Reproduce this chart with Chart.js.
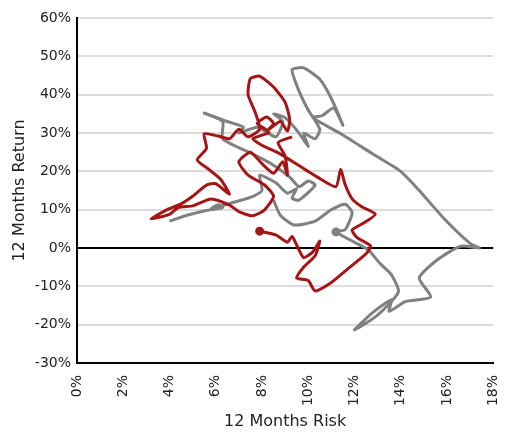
<!DOCTYPE html>
<html>
<head>
<meta charset="utf-8">
<script src="https://cdn.jsdelivr.net/npm/chart.js@4/dist/chart.umd.min.js"></script>
<style>
  html, body { margin: 0; padding: 0; background: #ffffff; }
  #wrap { width: 522px; height: 432px; }
</style>
</head>
<body>
<div id="wrap"><canvas id="c" width="522" height="432"></canvas></div>
<script>
// Rolling 12-month risk (x, %) and return (y, %) paths
const redRisk = [7.9,8.6,9.1,9.3,9.5,9.8,10.2,10.5,10.3,9.8,9.5,10.0,10.3,11.0,11.7,12.5,12.7,12.1,11.9,12.4,12.9,12.3,11.9,11.6,11.4,11.2,10.4,9.6,8.8,8.0,7.6,8.3,7.8,8.2,8.5,8.3,8.8,9.1,9.2,9.0,8.5,7.9,7.5,7.4,7.7,7.9,7.4,7.0,6.6,6.1,5.5,5.6,5.2,5.7,6.2,6.6,6.0,5.6,5.0,4.5,3.9,3.2,4.0,4.4,5.0,5.8,6.6,7.0,7.6,8.1,8.5,8.1,7.4,7.0,7.5,8.0,8.5,8.9,9.1,9.0,8.7,9.3];
const redReturn = [4.4,3.4,1.5,3.0,0.8,-2.5,-1.0,1.8,-2.0,-5.0,-7.8,-8.5,-11.2,-9.0,-5.5,-1.5,0.5,2.8,4.7,6.5,8.8,10.8,12.8,16.5,20.5,16.0,18.5,21.5,24.5,26.8,28.5,30.2,32.5,34.2,32.5,31.0,33.0,30.5,33.5,38.0,42.0,44.8,44.2,40.0,35.5,31.0,29.0,31.0,28.5,29.2,29.8,26.0,23.0,20.5,18.0,14.0,16.8,16.4,13.5,11.5,10.0,7.6,8.8,10.6,11.0,12.8,11.2,9.5,8.4,9.9,13.5,16.5,19.0,22.5,25.0,22.0,19.5,22.5,19.0,24.0,27.5,29.0];

const grayRisk = [4.0,4.8,5.6,6.3,6.1,5.8,6.7,7.5,8.0,7.9,8.6,9.1,9.5,9.3,9.6,10.3,10.0,9.6,9.2,8.4,7.6,6.3,6.3,5.5,6.5,7.2,7.0,7.8,8.6,8.9,8.5,9.0,9.6,10.0,9.8,10.3,10.5,10.0,9.6,9.3,9.8,10.5,11.0,11.5,11.1,10.6,10.2,11.5,12.8,14.0,14.8,15.9,17.0,17.4,16.6,15.6,14.8,15.3,14.2,13.5,13.6,12.8,12.0,13.0,13.9,13.6,13.1,12.6,12.0,11.2,11.6,11.9,11.6,11.0,10.3,9.4,8.8,8.5];
const grayReturn = [7.0,8.6,9.8,10.6,11.3,10.2,11.8,13.2,15.0,19.0,17.0,14.3,15.5,13.0,12.5,16.4,17.5,16.0,18.5,22.0,24.5,28.5,33.0,35.2,33.0,31.5,30.0,31.5,29.0,33.0,35.0,34.0,30.0,26.5,30.0,28.5,31.0,36.0,41.0,46.5,47.0,44.0,39.0,32.0,36.5,34.5,34.0,29.5,24.5,20.0,15.0,7.5,1.2,0.0,0.5,-3.0,-7.8,-12.8,-14.0,-16.5,-13.5,-16.8,-21.4,-17.5,-11.5,-7.0,-4.0,-0.5,1.5,4.2,4.8,9.2,11.4,10.0,7.0,6.0,8.5,12.5];

const xTicks = [0, 2, 4, 6, 8, 10, 12, 14, 16, 18];
const yTicks = [-30, -20, -10, 0, 10, 20, 30, 40, 50, 60];

const toPoints = (xs, ys) => xs.map((x, i) => ({ x: x, y: ys[i] }));

const FONT = "'DejaVu Sans', Verdana, sans-serif";
const RED = '#a51515';
const GRAY = '#808080';

new Chart(document.getElementById('c'), {
  type: 'scatter',
  data: {
    datasets: [
      {
        label: 'Red',
        data: toPoints(redRisk, redReturn),
        showLine: true,
        borderColor: RED,
        backgroundColor: RED,
        borderWidth: 3,
        tension: 0.2,
        pointRadius: (ctx) => ctx.dataIndex === 0 ? 3 : 0,
        pointHoverRadius: 0
      },
      {
        label: 'Gray',
        data: toPoints(grayRisk, grayReturn),
        showLine: true,
        borderColor: GRAY,
        backgroundColor: GRAY,
        borderWidth: 3,
        tension: 0.2,
        pointRadius: (ctx) => ctx.dataIndex === 69 ? 3 : 0,
        pointHoverRadius: 0
      }
    ]
  },
  options: {
    responsive: false,
    animation: false,
    events: [],
    layout: { padding: { left: 0, right: 4, top: 18, bottom: 0 } },
    plugins: {
      legend: { display: false },
      tooltip: { enabled: false }
    },
    scales: {
      x: {
        type: 'linear',
        min: 0,
        max: 18,
        afterBuildTicks: (s) => { s.ticks = xTicks.map(v => ({ value: v })); },
        afterFit: (s) => { s.height = 69; },
        grid: { display: false, drawTicks: false },
        border: { display: true, color: '#000000', width: 2 },
        ticks: {
          padding: 12,
          minRotation: 90,
          maxRotation: 90,
          color: '#222222',
          font: { family: FONT, size: 14 },
          callback: (v) => v + '%'
        },
        title: {
          display: true,
          text: '12 Months Risk',
          color: '#222222',
          font: { family: FONT, size: 16 },
          padding: { top: 0, bottom: 1 }
        }
      },
      y: {
        type: 'linear',
        min: -30,
        max: 60,
        afterBuildTicks: (s) => { s.ticks = yTicks.map(v => ({ value: v })); },
        afterFit: (s) => { s.width = 77; },
        grid: {
          drawTicks: false,
          color: (ctx) => ctx.tick && ctx.tick.value === 0 ? '#000000' : '#dcdcdc',
          lineWidth: 2
        },
        border: { display: true, color: '#000000', width: 2 },
        ticks: {
          padding: 6,
          color: '#222222',
          font: { family: FONT, size: 14 },
          callback: (v) => v + '%'
        },
        title: {
          display: true,
          text: '12 Months Return',
          color: '#222222',
          font: { family: FONT, size: 16 },
          padding: { top: 10, bottom: 0 }
        }
      }
    }
  }
});
</script>
</body>
</html>
